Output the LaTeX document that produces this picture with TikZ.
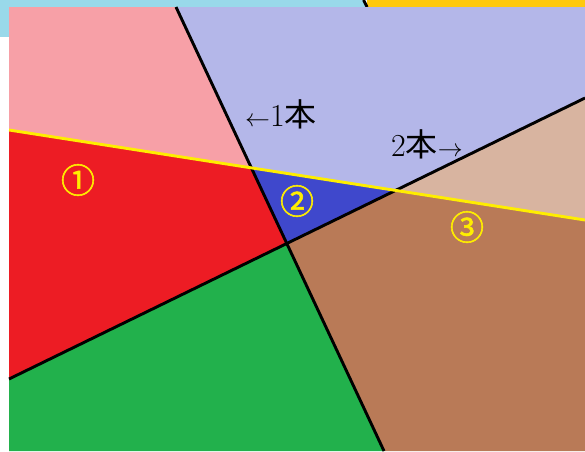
\documentclass[tikz,border=0pt]{standalone}
\usepackage{fontspec}
\newfontfamily\jpfont{Noto Sans CJK JP}
\newfontfamily\jpbold[FakeBold=1.6]{Noto Sans CJK JP}
\usetikzlibrary{positioning}
\definecolor{skyband}{RGB}{153,217,234}
\definecolor{goldband}{RGB}{255,201,14}
\definecolor{palered}{RGB}{247,160,167}
\definecolor{palelav}{RGB}{180,183,233}
\definecolor{palebrown}{RGB}{216,180,160}
\definecolor{paintred}{RGB}{237,28,36}
\definecolor{paintblue}{RGB}{63,72,204}
\definecolor{paintgreen}{RGB}{34,177,76}
\definecolor{paintbrown}{RGB}{185,122,87}
\definecolor{cutyellow}{RGB}{255,238,0}
\tikzset{
  cut/.style={draw=black,line width=2.9pt,line cap=butt},
  ycut/.style={draw=cutyellow,line width=2.9pt},
  numlab/.style={text=cutyellow,font=\jpbold\fontsize{34}{34}\selectfont,inner sep=0pt},
  countlab/.style={font=\fontsize{32}{32}\selectfont,inner sep=0pt,anchor=base}
}

\begin{document}
\begin{tikzpicture}[x=1pt,y=-1pt]
    \useasboundingbox (0,0) rectangle (585,451);
    % --- bands behind the panel
    \fill[skyband]  (0,0) rectangle (365,37);
    \fill[goldband] (367,0) rectangle (585,7);
    \draw[cut] (363.5,0)--(367,7);
    % --- end points of the three cuts
    \coordinate (A1) at (176,7);   \coordinate (A2) at (384,451);
    \coordinate (B1) at (9,379);   \coordinate (B2) at (585,98);
    \coordinate (C1) at (9,130);   \coordinate (C2) at (585,220);
    \coordinate (AC) at (intersection of A1--A2 and C1--C2);
    \coordinate (AB) at (intersection of A1--A2 and B1--B2);
    \coordinate (BC) at (intersection of B1--B2 and C1--C2);
    % --- pieces
    \fill[palered]    (9,7)--(A1)--(AC)--(C1)--cycle;
    \fill[palelav]    (A1)--(585,7)--(B2)--(BC)--(AC)--cycle;
    \fill[palebrown]  (BC)--(B2)--(C2)--cycle;
    \fill[paintred]   (C1)--(AC)--(AB)--(B1)--cycle;
    \fill[paintblue]  (AC)--(BC)--(AB)--cycle;
    \fill[paintgreen] (B1)--(AB)--(A2)--(9,451)--cycle;
    \fill[paintbrown] (AB)--(BC)--(C2)--(585,451)--(A2)--cycle;
    % --- cuts
    \draw[cut] (A1)--(A2);
    \draw[cut] (B1)--(B2);
    \draw[ycut] (C1)--(C2);
    % --- labels
    \node[numlab] (n1) at (78,180)  {①};
    \node[numlab] (n2) at (297,201) {②};
    \node[numlab] (n3) at (467,227) {③};
    \node[countlab] (one) at (281,126) {$\leftarrow$1{\jpfont 本}};
    \node[countlab] (two) at (427,156) {2{\jpfont 本}$\rightarrow$};
\end{tikzpicture}
\end{document}
